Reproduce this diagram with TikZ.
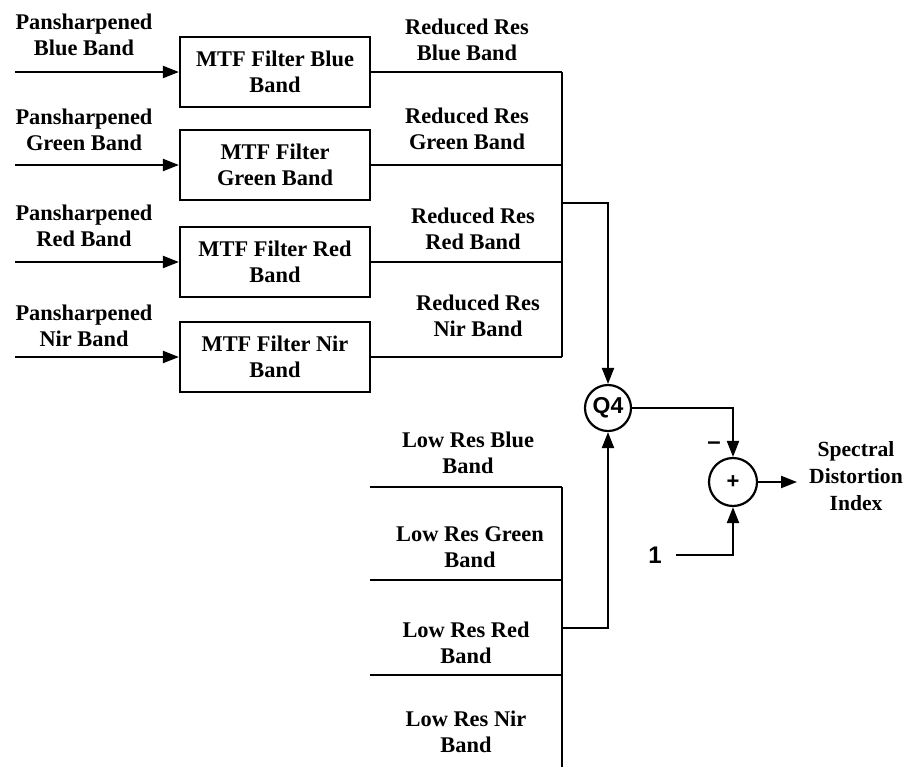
\documentclass[tikz,border=0pt]{standalone}
\usepackage{fontspec}
\setmainfont{Liberation Serif}
\newfontfamily\labelsans{Liberation Sans}
\usepackage{tikz}
\usetikzlibrary{arrows.meta, positioning, calc}

\begin{document}
\begin{tikzpicture}[
  x=0.5pt, y=-0.5pt,
  font=\fontsize{11.2}{13}\selectfont\bfseries,
  every node/.style={align=center},
  flow/.style={-{Triangle[length=8pt, width=6pt]}, line width=1.1pt},
  wire/.style={line width=1.1pt},
  filterbox/.style={
    draw,
    line width=1.1pt,
    minimum width=95pt,
    minimum height=35pt,
    inner sep=2pt
  },
  junction/.style={draw, circle, line width=1.1pt, inner sep=0pt},
  sig/.style={inner sep=2pt}
]
\useasboundingbox (0,0) rectangle (915,767);

% MTF filter blocks
\node[filterbox] (blueflt) at (275,72) {MTF Filter Blue\\Band};
\node[filterbox] (greenflt) at (275,165) {MTF Filter\\Green Band};
\node[filterbox] (redflt) at (275,262) {MTF Filter Red\\Band};
\node[filterbox] (nirflt) at (275,357) {MTF Filter Nir\\Band};

% pansharpened inputs
\node[sig] (bluepan) at (84,35) {Pansharpened\\Blue Band};
\node[sig] (greenpan) at (84,130) {Pansharpened\\Green Band};
\node[sig] (redpan) at (84,226) {Pansharpened\\Red Band};
\node[sig] (nirpan) at (84,326) {Pansharpened\\Nir Band};

\coordinate (bluein) at (15,72);
\coordinate (greenin) at (15,165);
\coordinate (redin) at (15,262);
\coordinate (nirin) at (15,357);

\draw[flow] (bluein) -- (blueflt);
\draw[flow] (greenin) -- (greenflt);
\draw[flow] (redin) -- (redflt);
\draw[flow] (nirin) -- (nirflt);

% reduced res outputs
\node[sig] (bluered) at (467,40) {Reduced Res\\Blue Band};
\node[sig] (greenred) at (467,129) {Reduced Res\\Green Band};
\node[sig] (redred) at (473,229) {Reduced Res\\Red Band};
\node[sig] (nirred) at (478,316) {Reduced Res\\Nir Band};

\coordinate (bustop) at (562,72);
\coordinate (busbot) at (562,357);
\draw[wire] (bustop) -- (busbot);
\draw[wire] (blueflt) -- (blueflt -| bustop);
\draw[wire] (greenflt) -- (greenflt -| bustop);
\draw[wire] (redflt) -- (redflt -| bustop);
\draw[wire] (nirflt) -- (nirflt -| bustop);

% quality index and sum
\node[junction, minimum size=23pt, font=\labelsans\fontsize{11.5}{12}\selectfont\bfseries] (q4) at (608,408) {Q4};
\node[junction, minimum size=24pt, font=\labelsans\fontsize{11}{11}\selectfont\bfseries] (sum) at (733,482) {+};

\coordinate (taptop) at (562,203);
\draw[flow] (taptop) -| (q4);
\draw[flow] (q4) -| (sum);
\node[sig, font=\labelsans\fontsize{12}{12}\selectfont\bfseries] (minus) at (714,446) {\textendash};

\node[sig, font=\labelsans\fontsize{12}{14}\selectfont\bfseries] (one) at (655,555) {1};
\draw[flow, shorten <=5pt] (one) -| (sum);

\node[sig, font=\fontsize{10.8}{13.5}\selectfont\bfseries] (spec) at (856,476) {Spectral\\Distortion\\Index};
\draw[flow] (sum) -- (797,482);

% low res bands
\node[sig] (bluelow) at (468,453) {Low Res Blue\\Band};
\node[sig] (greenlow) at (470,547) {Low Res Green\\Band};
\node[sig] (redlow) at (466,643) {Low Res Red\\Band};
\node[sig] (nirlow) at (466,732) {Low Res Nir\\Band};

\coordinate (lowtop) at (562,487);
\coordinate (lowbot) at (562,767);
\coordinate (lowa) at (370,487);
\coordinate (lowb) at (370,580);
\coordinate (lowc) at (370,675);
\draw[wire] (lowtop) -- (lowbot);
\draw[wire] (lowa) -- (lowa -| lowtop);
\draw[wire] (lowb) -- (lowb -| lowtop);
\draw[wire] (lowc) -- (lowc -| lowtop);

\coordinate (tapbot) at (562,628);
\draw[flow] (tapbot) -| (q4);

\end{tikzpicture}
\end{document}
